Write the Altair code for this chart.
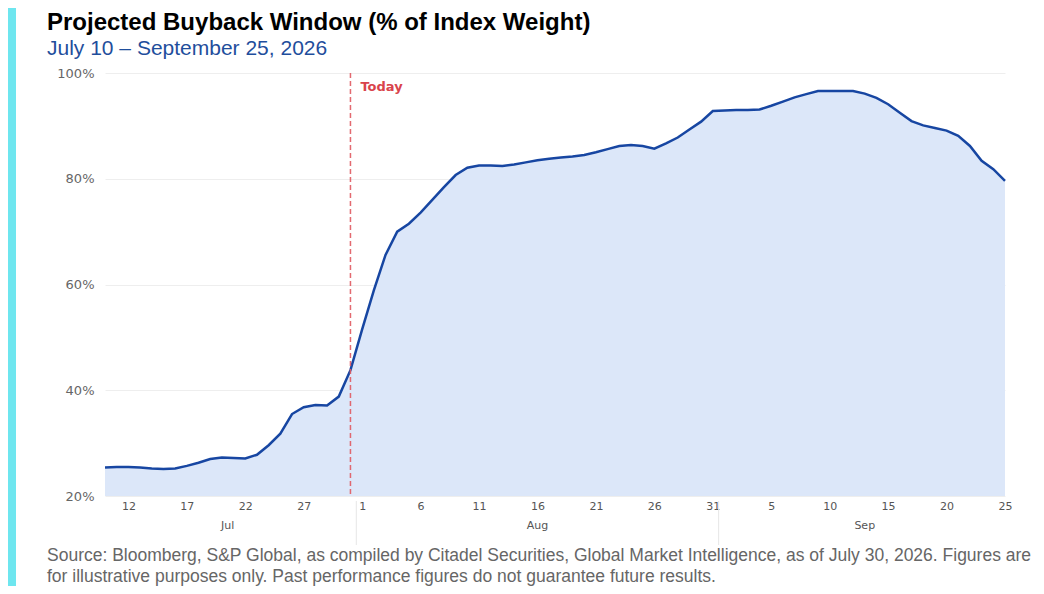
import altair as alt
import pandas as pd

# ---- data ----
dates = pd.date_range("2026-07-10", "2026-09-25", freq="D").strftime("%Y-%m-%d").tolist()
jul_vals = [25.4, 25.5, 25.5, 25.4, 25.2, 25.1, 25.2, 25.7, 26.3, 27.0, 27.3,
            27.2, 27.1, 27.8, 29.6, 31.8, 35.5, 36.8, 37.2, 37.1, 38.8, 43.8]
aug_vals = [51.5, 58.9, 65.6, 70.0, 71.5, 73.6, 76.0, 78.4, 80.7, 82.1, 82.5,
            82.5, 82.4, 82.7, 83.1, 83.5, 83.8, 84.0, 84.2, 84.5, 85.0, 85.6,
            86.2, 86.4, 86.2, 85.7, 86.7, 87.8, 89.3, 90.8, 92.8]
sep_vals = [92.9, 93.0, 93.0, 93.1, 93.8, 94.6, 95.4, 96.0, 96.6, 96.6, 96.6,
            96.6, 96.1, 95.3, 94.1, 92.5, 90.9, 90.1, 89.6, 89.1, 88.1, 86.2,
            83.4, 81.8, 79.6]
weights = jul_vals + aug_vals + sep_vals
today = "2026-07-31"
tick_dates = pd.date_range("2026-07-12", "2026-09-25", freq="5D").strftime("%Y-%m-%d").tolist()
y_ticks = [20, 40, 60, 80, 100]

title_text = "Projected Buyback Window (% of Index Weight)"
subtitle_text = "July 10 \u2013 September 25, 2026"
source_lines = [
    "Source: Bloomberg, S&P Global, as compiled by Citadel Securities, Global Market Intelligence, as of July 30, 2026. Figures are",
    "for illustrative purposes only. Past performance figures do not guarantee future results.",
]

# ---- derived tables ----
def ms(d):
    return int(pd.Timestamp(d, tz="UTC").value // 10**6)

df = pd.DataFrame({"date": dates, "weight": weights})
ts = pd.to_datetime(df["date"])
df_month = (pd.DataFrame({"ts": ts, "month": ts.dt.strftime("%b")})
            .groupby("month", sort=False)["ts"].agg(["mean", "max"]).reset_index())
months_df = pd.DataFrame({
    "date": df_month["mean"].dt.strftime("%Y-%m-%dT%H:%M:%SZ"),
    "month": df_month["month"],
})
sep_df = pd.DataFrame({
    "date": (df_month["max"].iloc[:-1] + pd.Timedelta(hours=12)).dt.strftime("%Y-%m-%dT%H:%M:%SZ")
})
today_df = pd.DataFrame({"date": [today], "label": ["Today"]})

W, H = 900, 423
FONT = "Liberation Sans"
AXFONT = "DejaVu Sans"

x_enc = alt.X(
    "date:T",
    title=None,
    scale=alt.Scale(type="utc", domain=[ms(dates[0]), ms(dates[-1])]),
    axis=alt.Axis(
        values=[ms(d) for d in tick_dates],
        labelExpr="utcFormat(datum.value, '%-d')",
        grid=False, domain=False, ticks=False, tickSize=0,
        labelFont=AXFONT, labelFontSize=11, labelColor="#555555",
        labelPadding=4, labelFlush=False, labelOverlap=False,
    ),
)
y_enc = alt.Y(
    "weight:Q",
    title=None,
    scale=alt.Scale(domain=[20, 100], zero=False, nice=False),
    axis=alt.Axis(
        values=y_ticks,
        labelExpr="datum.value + '%'",
        grid=True, gridColor="#eeeeee", gridWidth=1,
        domain=False, ticks=False, tickSize=0,
        labelFont=AXFONT, labelFontSize=13, labelColor="#666666",
        labelPadding=11,
    ),
)

base = alt.Chart(df)
area = base.mark_area(color="#dce7f9", opacity=1).encode(x=x_enc, y=y_enc, y2=alt.datum(20))
line = base.mark_line(color="#1746a2", strokeWidth=2.5).encode(x=x_enc, y=y_enc)

today_rule = alt.Chart(today_df).mark_rule(
    color="#e05a60", strokeDash=[5, 3], strokeWidth=1.5, opacity=0.9
).encode(x=x_enc)
today_text = alt.Chart(today_df).mark_text(
    align="left", baseline="alphabetic", dx=10, font=AXFONT, fontSize=13,
    fontWeight="bold", color="#d9434b"
).encode(x=x_enc, y=alt.value(18), text="label:N")

month_text = alt.Chart(months_df).mark_text(
    align="center", baseline="alphabetic", font=AXFONT, fontSize=11, color="#555555"
).encode(x=x_enc, y=alt.value(456), text="month:N")
month_sep = alt.Chart(sep_df).mark_rule(color="#e6e6e6", strokeWidth=1).encode(
    x=x_enc, y=alt.value(428), y2=alt.value(472)
)

strip = alt.Chart(pd.DataFrame({"k": [0]})).mark_rect(color="#6ee6ef").encode(
    x=alt.value(-97), x2=alt.value(-89), y=alt.value(-65), y2=alt.value(513)
)

def label(text, y, size, color, weight="normal"):
    return alt.Chart(pd.DataFrame({"t": [text]})).mark_text(
        align="left", baseline="alphabetic", font=FONT, fontSize=size,
        fontWeight=weight, color=color
    ).encode(x=alt.value(-58), y=alt.value(y), text="t:N")

title = label(title_text, -43, 24, "#000000", "bold")
subtitle = label(subtitle_text, -18, 21, "#1f4e9c")
src1 = label(source_lines[0], 488, 17.5, "#666666")
src2 = label(source_lines[1], 509, 17.5, "#666666")

chart = alt.layer(
    strip, area, line, today_rule, today_text, month_sep, month_text,
    title, subtitle, src1, src2
).properties(
    width=W, height=H,
    padding={"left": 97, "top": 65, "right": 31, "bottom": 90},
    autosize=alt.AutoSizeParams(type="none"),
    background="white",
).configure_view(stroke=None)

chart.save("out.html", embed_options={"renderer": "svg", "actions": False})
